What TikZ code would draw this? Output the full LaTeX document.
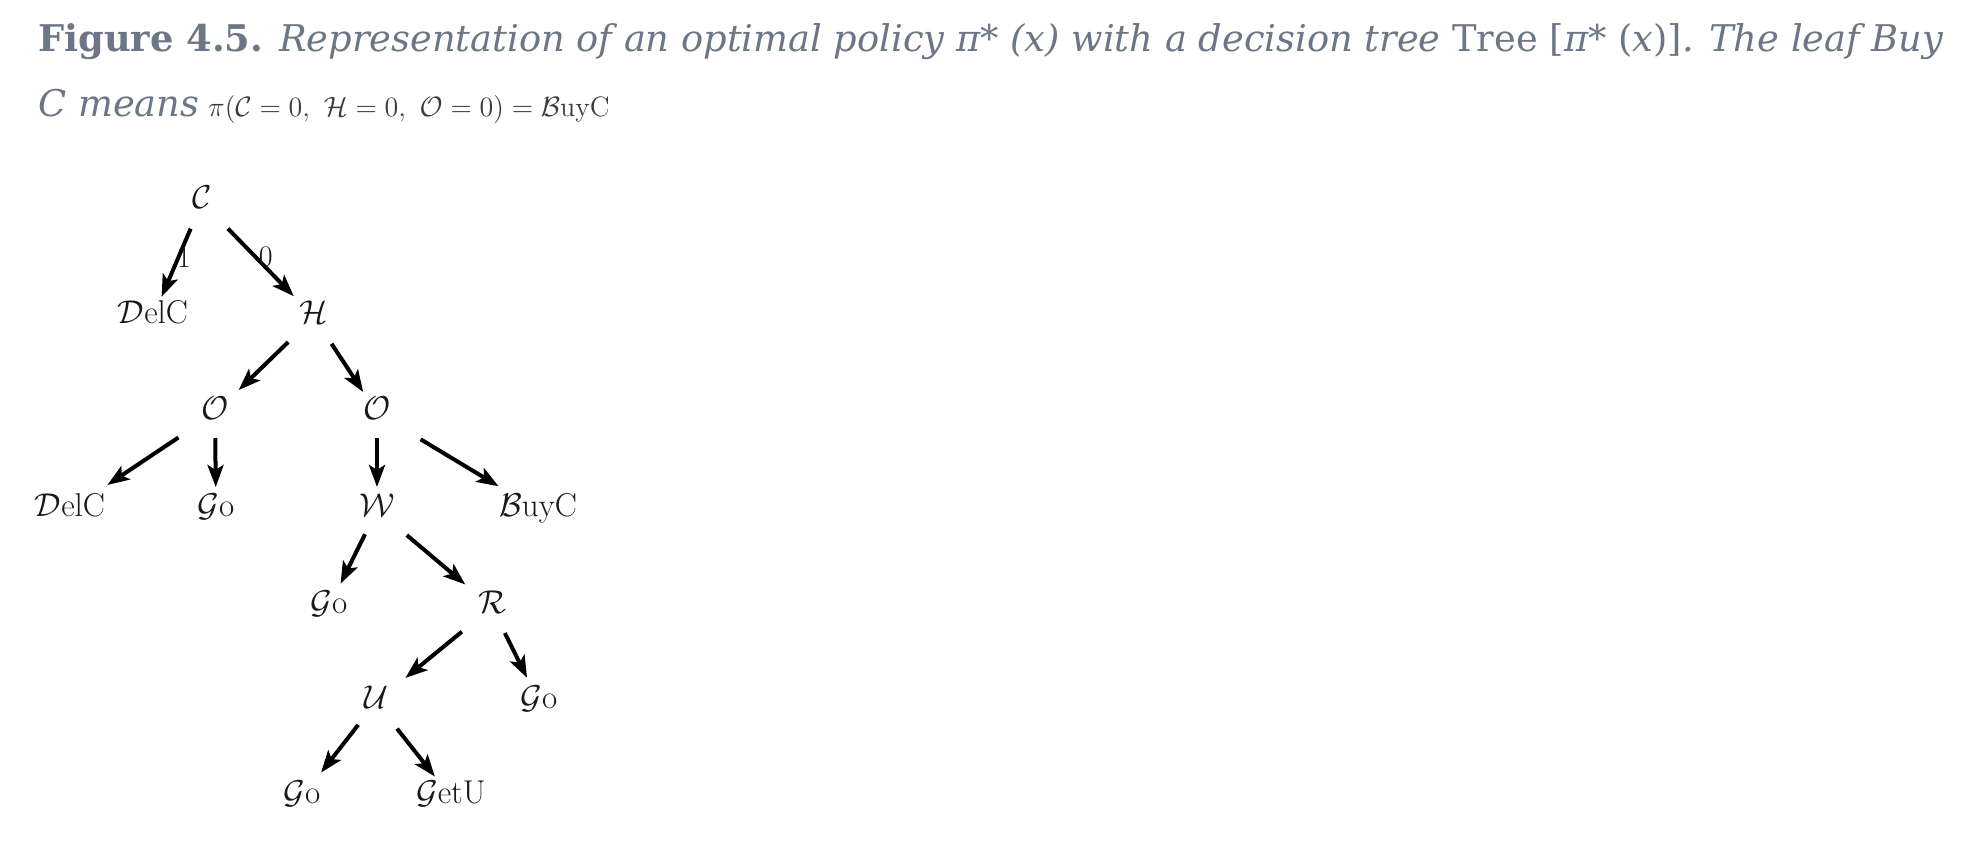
\RequirePackage{fix-cm}
\documentclass[tikz,border=0pt]{standalone}
\usepackage{fontspec}
\newfontfamily\capfont{DejaVu Serif}
\usetikzlibrary{arrows.meta}
\definecolor{capgray}{RGB}{108,118,134}
\definecolor{mathgray}{RGB}{60,60,60}
\definecolor{treeink}{RGB}{25,25,25}
\newlength\capwidth
\newcommand\capone{{\bfseries Figure 4.5.} {\itshape Representation of an optimal policy π* (x) with a decision tree} Tree [{\itshape π}* ({\itshape x})]{\itshape . The leaf Buy}}
\begin{document}
\settowidth{\capwidth}{\capfont\fontsize{20}{24}\selectfont\capone}%
\pgfmathsetmacro\capsize{(952.5/\capwidth)*20}%
\begin{tikzpicture}[x=0.5pt,y=-0.5pt,
  treenode/.style={font=\fontsize{16.5}{19}\selectfont, text=treeink, inner sep=0pt, text height=0.68em, text depth=0pt},
  arr/.style={line width=2pt, -{Stealth[length=11pt,width=8pt,inset=2.5pt]}},
  edg/.style 2 args={arr, shorten <=#1pt, shorten >=#2pt},
  edgelabel/.style={font=\fontsize{15}{17}\selectfont, text=treeink, inner sep=0pt},
  capline/.style={anchor=base west, inner sep=0pt, text=capgray}]
\useasboundingbox (0,0) rectangle (1968,862);
\fill[white] (0,0) rectangle (1968,862);
% caption, fitted to the reference line width
\node[capline, font=\capfont\fontsize{\capsize}{\capsize}\selectfont] (cap1) at (38,51) {\capone};
\node[capline, font=\capfont\fontsize{\capsize}{\capsize}\selectfont] (cap2) at (38,116) {\itshape C means};
\node[capline, text=mathgray, font=\fontsize{14}{17}\selectfont, xshift=4pt] (cap3) at (cap2.base east)
  {$\pi(\mathcal{C}=0,\ \mathcal{H}=0,\ \mathcal{O}=0)=\mathcal{B}\mathrm{uyC}$};
% tree nodes
\node[treenode] (C) at (202,202) {$\mathcal{C}$};
\node[treenode] (DelC1) at (153,317) {$\mathcal{D}$elC};
\node[treenode] (H) at (314,317) {$\mathcal{H}$};
\node[treenode] (O1) at (215,413) {$\mathcal{O}$};
\node[treenode] (O2) at (377,413) {$\mathcal{O}$};
\node[treenode] (DelC2) at (70,510) {$\mathcal{D}$elC};
\node[treenode] (Go1) at (216,510) {$\mathcal{G}$o};
\node[treenode] (W) at (377,510) {$\mathcal{W}$};
\node[treenode] (BuyC) at (538,510) {$\mathcal{B}$uyC};
\node[treenode] (Go2) at (329,607) {$\mathcal{G}$o};
\node[treenode] (R) at (492,607) {$\mathcal{R}$};
\node[treenode] (U) at (376,702) {$\mathcal{U}$};
\node[treenode] (Go3) at (539,702) {$\mathcal{G}$o};
\node[treenode] (Go4) at (302,797) {$\mathcal{G}$o};
\node[treenode] (GetU) at (451,797) {$\mathcal{G}$etU};
% edges
\draw[edg={14.5}{11}] (C.center) -- node[edgelabel, pos=0.48, xshift=2.75pt] (l1) {1} (DelC1.center);
\draw[edg={18.5}{14.5}] (C.center) -- node[edgelabel, pos=0.48, xshift=5pt] (l0) {0} (H.center);
\draw[edg={18}{16.5}] (H.center) -- (O1.center);
\draw[edg={16}{12.5}] (H.center) -- (O2.center);
\draw[edg={22}{22.5}] (O1.center) -- (DelC2.center);
\draw[edg={12.5}{11.5}] (O1.center) -- (Go1.center);
\draw[edg={12.5}{11.5}] (O2.center) -- (W.center);
\draw[edg={25.5}{23}] (O2.center) -- (BuyC.center);
\draw[edg={13.5}{13}] (W.center) -- (Go2.center);
\draw[edg={19.5}{17.5}] (W.center) -- (R.center);
\draw[edg={19.5}{19}] (R.center) -- (U.center);
\draw[edg={14.5}{13.5}] (R.center) -- (Go3.center);
\draw[edg={14.5}{15.5}] (U.center) -- (Go4.center);
\draw[edg={17}{13}] (U.center) -- (GetU.center);
\end{tikzpicture}
\end{document}
